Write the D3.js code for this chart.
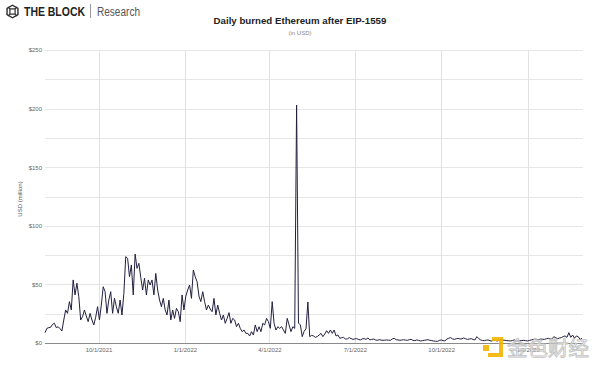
<!DOCTYPE html>
<html>
<head>
<meta charset="utf-8">
<script src="https://cdn.jsdelivr.net/npm/d3@7"></script>
<style>
  html, body { margin: 0; padding: 0; background: #fff; }
  svg { display: block; }
</style>
</head>
<body>
<svg id="chart" width="600" height="369"></svg>
<script>
// ---------------- DATA ----------------
const title = "Daily burned Ethereum after EIP-1559";
const subtitle = "(in USD)";
const yAxisTitle = "USD (million)";
const seriesStart = "2021-08-05";   // first observation (EIP-1559 activation)
const seriesStepDays = 2;           // one reading every two days
const seriesEnd = "2023-02-28";
// burned value, USD million
const burnedUSDm = [
  8.8, 12.5, 13.1, 13.4, 15.9, 16.8, 13.1, 13.9, 12.2, 10.2,
  19.6, 28.2, 25.3, 35.3, 28.2, 53.8, 41, 51, 39.5, 19.6,
  22.5, 28.2, 23, 18.2, 25.3, 19.6, 15.4, 22, 31, 19.6,
  32.4, 48, 43.8, 25.3, 36.7, 43.8, 25.3, 38.1, 31, 25.3,
  36.7, 23.9, 42.4, 73.7, 72.2, 56.6, 66.6, 41, 75.9, 63.7,
  68, 56, 45.2, 55.2, 41, 53.8, 49.5, 53.8, 41, 59.4,
  45.2, 36.7, 31, 38.1, 28.2, 23.9, 36.7, 19.6, 28.2, 21,
  29.6, 26.7, 18.2, 41, 28.2, 40, 45.2, 49.5, 38.1, 62.3,
  56.6, 52.3, 40, 35.3, 43.8, 35.3, 28.2, 32.4, 29, 26.7,
  38.1, 23.9, 32.4, 25.3, 19.6, 23.9, 16.8, 21, 25.9, 16.8,
  21, 19.6, 13.9, 16.8, 12.5, 9.7, 11.1, 8.2, 8.2, 6,
  9.7, 6.8, 15.4, 9.7, 13.9, 9.7, 16.8, 15.4, 21, 18.2,
  12.5, 35.3, 16.8, 11.1, 13.9, 12.5, 13.9, 11.1, 8.2, 21,
  15.4, 9.7, 13.9, 12.5, 203, 17, 15.4, 5.4, 10, 12,
  35, 5.4, 6.5, 6, 4.8, 5.5, 6.8, 8.2, 5.4, 7.7,
  10.5, 8.2, 11.1, 8.2, 11.1, 6, 6.8, 4, 4.5, 4.8,
  3.4, 3.4, 4.6, 3.8, 3.1, 3.5, 3.7, 3, 2.6, 3.5,
  3.7, 3.1, 4.3, 2.6, 3, 3.4, 2.6, 2.3, 2.8, 2.5,
  2.3, 2.4, 2.6, 2.4, 2.3, 3.5, 4, 2.8, 2.6, 2.3,
  2.5, 2.8, 2.5, 2.3, 2.8, 3.1, 2.2, 2, 2.6, 2.2,
  1.7, 2, 2.3, 2.6, 2.8, 2.3, 2, 1.7, 1.5, 1.4,
  2.2, 2.6, 2, 1.7, 3.4, 4, 4.6, 3.5, 3.1, 3.6,
  4, 3.4, 3.6, 4.3, 3.6, 3.1, 3.4, 3.7, 3, 2.6,
  5.4, 3.8, 2.6, 2.2, 2, 2.4, 2.6, 1.9, 1.7, 2.6,
  2.1, 1.7, 2.5, 3.1, 2.5, 2.3, 2, 1.9, 1.7, 2.2,
  2.6, 2, 1.7, 2, 2.1, 2.3, 2, 1.7, 2.2, 2.6,
  3, 3.1, 2.6, 2.9, 3.4, 3.2, 3.1, 3.6, 4, 3.6,
  3.4, 5.4, 4.5, 3.7, 4.2, 4.6, 5.5, 6, 4.8, 8.8,
  4.8, 6.8, 4, 6, 5.4, 3.1, 4
];
const xTickDates = ["2021-10-01", "2022-01-01", "2022-04-01", "2022-07-01", "2022-10-01", "2023-01-01"];
const yTickValues = [0, 50, 100, 150, 200, 250];
const yGridValues = [0, 25, 50, 75, 100, 125, 150, 175, 200, 225, 250];
const watermarkText = "金色财经";

// ---------------- CHART ----------------
const parse = d3.timeParse("%Y-%m-%d");
const start = parse(seriesStart);
const data = burnedUSDm.map((v, i) => ({ date: d3.timeDay.offset(start, i * seriesStepDays), value: v }));

const svg = d3.select("#chart");
const pLeft = 45, pRight = 582, pTop = 50, pBottom = 343;

const x = d3.scaleTime().domain([start, parse(seriesEnd)]).range([pLeft, pRight]);
const y = d3.scaleLinear().domain([0, 250]).range([pBottom, pTop]);

const font = "'Liberation Sans', Arial, sans-serif";

// horizontal gridlines
svg.append("g").selectAll("line").data(yGridValues.filter(d => d > 0)).join("line")
  .attr("x1", pLeft).attr("x2", pRight + 1)
  .attr("y1", d => Math.round(y(d)) + 0.5).attr("y2", d => Math.round(y(d)) + 0.5)
  .attr("stroke", "#e6e6e6").attr("stroke-width", 1);

// vertical gridlines
const xt = xTickDates.map(parse);
svg.append("g").selectAll("line").data(xt).join("line")
  .attr("x1", d => Math.round(x(d)) + 0.5).attr("x2", d => Math.round(x(d)) + 0.5)
  .attr("y1", pTop).attr("y2", pBottom)
  .attr("stroke", "#e2e2e2").attr("stroke-width", 1);

// x axis
const xAxis = d3.axisBottom(x).tickValues(xt).tickFormat(d3.timeFormat("%-m/%-d/%Y")).tickSize(0).tickPadding(5);
const gx = svg.append("g").attr("transform", `translate(0,${pBottom})`).call(xAxis);
gx.select(".domain").remove();
gx.selectAll("text").attr("font-family", font).attr("font-size", 6).attr("fill", "#666");

// y axis
const yAxis = d3.axisLeft(y).tickValues(yTickValues).tickFormat(d => "$" + d).tickSize(0).tickPadding(3);
const gy = svg.append("g").attr("transform", `translate(${pLeft},0)`).call(yAxis);
gy.select(".domain").remove();
gy.selectAll("text").attr("font-family", font).attr("font-size", 6).attr("fill", "#666");

// zero baseline
svg.append("line").attr("x1", pLeft).attr("x2", pRight + 1)
  .attr("y1", Math.round(y(0)) + 0.5).attr("y2", Math.round(y(0)) + 0.5)
  .attr("stroke", "#8a8a8a").attr("stroke-width", 1);

// line
const line = d3.line().x(d => x(d.date)).y(d => y(d.value));
svg.append("path").datum(data).attr("d", line)
  .attr("fill", "none").attr("stroke", "#22203f").attr("stroke-width", 1)
  .attr("stroke-linejoin", "round");

// y axis title
svg.append("text").attr("transform", "translate(22,199) rotate(-90)")
  .attr("text-anchor", "middle").attr("font-family", font).attr("font-size", 6)
  .attr("fill", "#555").text(yAxisTitle);

// titles
svg.append("text").attr("x", 300).attr("y", 24).attr("text-anchor", "middle")
  .attr("font-family", font).attr("font-weight", "bold").attr("font-size", 9.7)
  .attr("fill", "#222").text(title);
svg.append("text").attr("x", 300).attr("y", 34.5).attr("text-anchor", "middle")
  .attr("font-family", font).attr("font-size", 6).attr("fill", "#888").text(subtitle);

// logo
const logo = svg.append("g");
const cx = 12.5, cy = 11.5, r = 6.3;
const hex = d3.range(6).map(k => {
  const a = Math.PI / 6 + k * Math.PI / 3;
  return [cx + r * Math.cos(a), cy + r * Math.sin(a)];
});
logo.append("path").attr("d", "M" + hex.join("L") + "Z")
  .attr("fill", "none").attr("stroke", "#2b2b2b").attr("stroke-width", 1.4);
logo.append("rect").attr("x", cx - 2.6).attr("y", cy - 2.6).attr("width", 5.2).attr("height", 5.2)
  .attr("fill", "none").attr("stroke", "#2b2b2b").attr("stroke-width", 1.2);
logo.append("path").attr("d", `M${cx - 2.6},${cy - 2.6}L${cx - 4.6},${cy - 4.6}M${cx + 2.6},${cy - 2.6}L${cx + 4.6},${cy - 4.6}M${cx - 2.6},${cy + 2.6}L${cx - 4.6},${cy + 4.6}M${cx + 2.6},${cy + 2.6}L${cx + 4.6},${cy + 4.6}`)
  .attr("stroke", "#2b2b2b").attr("stroke-width", 1.1);
logo.append("text").attr("x", 24).attr("y", 16).attr("font-family", font)
  .attr("font-weight", "bold").attr("font-size", 12.5).attr("fill", "#222")
  .attr("textLength", 61).attr("lengthAdjust", "spacingAndGlyphs").text("THE BLOCK");
logo.append("line").attr("x1", 90.5).attr("x2", 90.5).attr("y1", 4).attr("y2", 18)
  .attr("stroke", "#999").attr("stroke-width", 1);
logo.append("text").attr("x", 97).attr("y", 16).attr("font-family", font)
  .attr("font-size", 12.5).attr("fill", "#555")
  .attr("textLength", 43).attr("lengthAdjust", "spacingAndGlyphs").text("Research");

// watermark
const wm = svg.append("g").attr("opacity", 0.9);
wm.append("rect").attr("x", 483).attr("y", 345).attr("width", 6).attr("height", 6).attr("fill", "#f4b400");
wm.append("path").attr("d", "M492,337 H503 V357 H488 V353 H499 V341 H492 Z").attr("fill", "#f4b400");
wm.append("text").attr("x", 507).attr("y", 356).attr("font-family", "'Noto Sans CJK SC', sans-serif")
  .attr("font-size", 20).attr("fill", "#ffffff").attr("stroke", "#bdbdbd").attr("stroke-width", 0.9)
  .attr("textLength", 82).attr("lengthAdjust", "spacingAndGlyphs").text(watermarkText);
</script>
</body>
</html>
